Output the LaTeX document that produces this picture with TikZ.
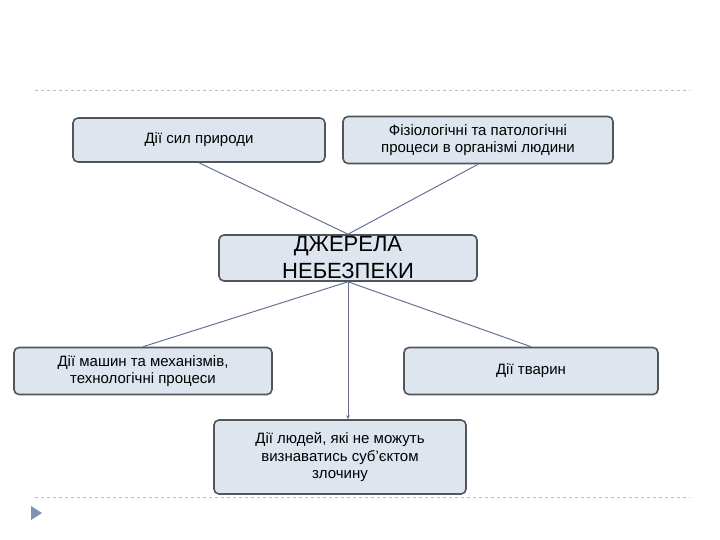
\documentclass[tikz,border=0pt]{standalone}
\usepackage{fontspec}
\setmainfont{Liberation Sans}
\usetikzlibrary{arrows.meta}
\begin{document}
\begin{tikzpicture}[x=1pt,y=-1pt,
  box/.style={draw=boxline,line width=1.6pt,fill=boxfill,rounded corners=5pt,inner sep=0pt,font=\fontsize{15}{17.5}\selectfont,align=center},
  conn/.style={draw=connc,line width=1pt}]
\definecolor{boxfill}{HTML}{DEE5EE}
\definecolor{boxline}{HTML}{4F565E}
\definecolor{connc}{HTML}{6A6F98}
\definecolor{dashc}{HTML}{BFBFBF}
\definecolor{markc}{HTML}{7F93B0}
\useasboundingbox (0,0) rectangle (720,540);
\draw[dashc,dashed,line width=0.8pt] (35,90) -- (690,90);
\draw[dashc,dashed,line width=0.8pt] (35,497) -- (690,497);
\fill[markc] (31,506) -- (42,513) -- (31,520) -- cycle;
\node[box,minimum width=252pt,minimum height=44pt] (a) at (199,140) {Дії сил природи};
\node[box,minimum width=270pt,minimum height=47pt] (b) at (478,140) {Фізіологічні та патологічні\\процеси в організмі людини};
\node[box,minimum width=258pt,minimum height=46pt] (c) at (348,258) {};
\node[font=\fontsize{22}{27}\selectfont,align=center] (ct) at (348,258) {ДЖЕРЕЛА\\НЕБЕЗПЕКИ};
\node[box,minimum width=258pt,minimum height=47pt] (d) at (143,371) {Дії машин та механізмів,\\технологічні процеси};
\node[box,minimum width=254pt,minimum height=47pt] (e) at (531,371) {Дії тварин};
\node[box,minimum width=252pt,minimum height=74pt] (f) at (340,457) {Дії людей, які не можуть\\визнаватись суб'єктом\\злочину};
\draw[conn] (a.south) -- (c.north);
\draw[conn] (b.south) -- (c.north);
\draw[conn] (c.south) -- (d.north);
\draw[conn] (c.south) -- (e.north);
\draw[conn,-{Stealth[length=4pt,width=4pt]}] (c.south) -- (f.north -| c.south);
\end{tikzpicture}
\end{document}
